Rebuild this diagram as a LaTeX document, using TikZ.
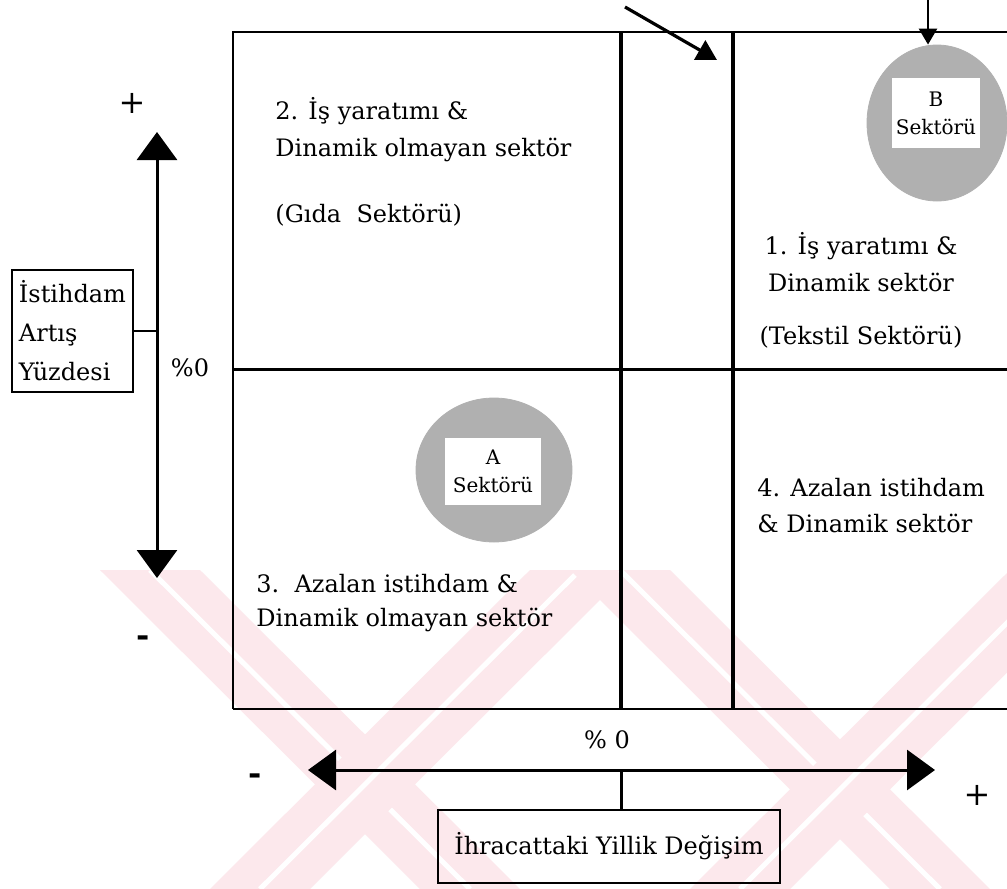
\documentclass[tikz,border=0pt]{standalone}
\usepackage{fontspec}
\setmainfont{DejaVu Serif}
\usetikzlibrary{arrows.meta,shapes.geometric}
\definecolor{wmark}{RGB}{252,232,236}

\tikzset{
  quad/.style={font=\fontsize{12}{18.5}\selectfont, inner sep=0pt, align=left},
  blob/.style={ellipse, fill=gray!62, draw=gray!62, inner sep=0pt},
  sekbox/.style={fill=white, align=center, font=\fontsize{10}{14}\selectfont, inner sep=0pt},
  axbox/.style={draw, line width=1.4pt, align=left, font=\fontsize{12}{19.5}\selectfont, inner sep=0pt},
  sign/.style={font=\fontsize{16}{16}\selectfont, inner sep=0pt}
}

\begin{document}
\begin{tikzpicture}[x=0.5pt, y=-0.5pt, >={Triangle[width=20pt,length=14pt]}]
\useasboundingbox (0,0) rectangle (1007,889);
\fill[white] (0,0) rectangle (1007,889);

\begin{scope}
\clip (0,570) rectangle (1007,889);
\foreach \a/\b in {150/470, 580/260, 620/940, 1060/740} {
  \fill[wmark] (\a-50,570) -- (\a+50,570) -- (\b+50,889) -- (\b-50,889) -- cycle;
  \draw[white, line width=2.5pt] (\a,570) -- (\b,889);
}
\end{scope}

\draw[line width=1pt] (233,709) -- (233,32) -- (1007,32);
\draw[line width=1.5pt] (233,369) -- (1007,369);
\draw[line width=1.2pt] (233,709) -- (1007,709);
\draw[line width=2.4pt] (621,32) -- (621,709);
\draw[line width=1.6pt] (733,32) -- (733,709);

\node[quad, anchor=north west] (q2) at (275,97) {2. İş yaratımı \&\\Dinamik olmayan sektör\\[14.5pt](Gıda\ \ Sektörü)};
\node[quad, align=center, anchor=north] (q1) at (861,232) {1. İş yaratımı \&\\Dinamik sektör\\[8pt](Tekstil Sektörü)};
\node[quad, font=\fontsize{12}{17}\selectfont, anchor=north west] (q3) at (256,574) {3.\ \ Azalan istihdam \&\\Dinamik olmayan sektör};
\node[quad, font=\fontsize{12}{18}\selectfont, anchor=north west] (q4) at (757,478) {4. Azalan istihdam\\\& Dinamik sektör};

\node[blob, minimum width=70pt, minimum height=78pt] (cB) at (937,123) {};
\node[sekbox, minimum width=44pt, minimum height=35pt] (sB) at (936,113) {B\\Sektörü};
\node[blob, minimum width=78pt, minimum height=72pt] (cA) at (494,470) {};
\node[sekbox, minimum width=48pt, minimum height=33.5pt] (sA) at (493,471) {A\\Sektörü};

\coordinate (vTop) at (157,132);
\coordinate (vBot) at (157,578);
\draw[<->, line width=1.5pt] (vBot) -- (vTop);
\coordinate (hL) at (308,770);
\coordinate (hR) at (935,770);
\draw[<->, line width=1.5pt] (hL) -- (hR);

\node[axbox, minimum width=60.5pt, minimum height=61pt] (lbox) at (72.5,331) {İstihdam\\Artış\\Yüzdesi};
\draw[line width=1pt] (lbox.east) -- (lbox.east -| vTop);
\node[inner sep=0pt, font=\fontsize{12}{12}\selectfont] (zeroV) at (190,368) {\%0};

\node[axbox, align=center, minimum width=171pt, minimum height=36.5pt] (bbox) at (609,846.5) {İhracattaki Yillik Değişim};
\coordinate (hMid) at (621,770);
\draw[line width=1.5pt] (hMid) -- (hMid |- bbox.north);
\node[inner sep=0pt, font=\fontsize{12}{12}\selectfont] (zeroH) at (607,740) {\% 0};

\node[sign] (vPlus) at (132,103) {+};
\node[sign] (vMinus) at (143,641) {\textbf{-}};
\node[sign] (hMinus) at (255,779) {\textbf{-}};
\node[sign] (hPlus) at (977,795) {+};

\coordinate (dStart) at (625,7);
\coordinate (dEnd) at (717,60);
\draw[->, >={Triangle[width=11pt,length=10pt]}, line width=1.6pt] (dStart) -- (dEnd);
\coordinate (bTop) at (928,0);
\draw[->, >={Triangle[width=9pt,length=8pt]}, line width=1.3pt] (bTop) -- (bTop |- cB.north);
\end{tikzpicture}
\end{document}
